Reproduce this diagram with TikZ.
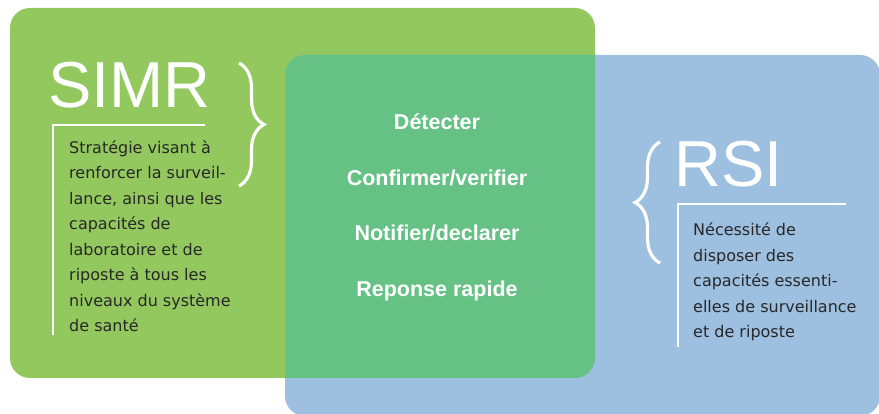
\documentclass[tikz,border=0pt]{standalone}
\usepackage[usenames,dvipsnames]{xcolor}
\usepackage{fontspec}
\setmainfont{Liberation Sans}
\newfontfamily\boxfont{DejaVu Sans}
\usetikzlibrary{decorations.pathreplacing}

\definecolor{simr_green}{RGB}{146,200,94}
\definecolor{rsi_blue}{RGB}{157,191,224}
\definecolor{both_green}{RGB}{102,193,133}
\definecolor{box_text}{RGB}{40,40,40}

\tikzset{
  Title/.style     = {text=white, inner sep=0pt, font=\fontsize{65}{65}\selectfont},
  Step/.style      = {text=white, inner sep=0pt, font=\bfseries\fontsize{21.5}{21.5}\selectfont},
  BoxText/.style   = {text=box_text, inner sep=0pt, align=left,
                      font=\boxfont\fontsize{16}{25.5}\selectfont},
  BoxLine/.style   = {draw=white, line width=1.5pt},
  Brace/.style     = {draw=white, line width=3.2pt, decorate,
                      decoration={brace, amplitude=25pt}}
}

\begin{document}
\begin{tikzpicture}[x=1pt, y=1pt]

\useasboundingbox (0,0) rectangle (879,414);

% sets

\fill[simr_green] (10,36) [rounded corners=20pt] rectangle (595,406);   % SIMR
\fill[rsi_blue] (285,-2) [rounded corners=20pt] rectangle (880,359);   % RSI
\begin{scope}
  \clip (10,36) [rounded corners=20pt] rectangle (595,406);
  \fill[both_green] (285,-2) [rounded corners=20pt] rectangle (880,359);  % both
\end{scope}

% SIMR

\node[Title, anchor=base west] (simr) at (48,306) {SIMR};
\draw[Brace] (239,351) -- (239,228);
\coordinate (simr_top) at (53,289);
\coordinate (simr_end) at (205,289);
\coordinate (simr_bot) at (53,79);
\draw[BoxLine] (simr_end) -- (simr_top) -- (simr_bot);
\node[BoxText, anchor=north west] (simr_text) at (69,273.5)
  {Stratégie visant à\\renforcer la surveil-\\lance, ainsi que les\\capacités de\\laboratoire et de\\riposte à tous les\\niveaux du système\\de santé};

% RSI

\node[Title, anchor=base west] (rsi) at (674,227) {RSI};
\draw[Brace] (660,151) -- (660,272);
\coordinate (rsi_top) at (678,210);
\coordinate (rsi_end) at (846,210);
\coordinate (rsi_bot) at (678,67);
\draw[BoxLine] (rsi_end) -- (rsi_top) -- (rsi_bot);
\node[BoxText, anchor=north west] (rsi_text) at (693,191)
  {Nécessité de\\disposer des\\capacités essenti-\\elles de surveillance\\et de riposte};

% both

\node[Step, anchor=base] (detecter)  at (437,284)   {Détecter};
\node[Step, anchor=base] (confirmer) at (437,228.5) {Confirmer/verifier};
\node[Step, anchor=base] (notifier)  at (437,173)   {Notifier/declarer};
\node[Step, anchor=base] (reponse)   at (437,117.5) {Reponse rapide};

\end{tikzpicture}
\end{document}
